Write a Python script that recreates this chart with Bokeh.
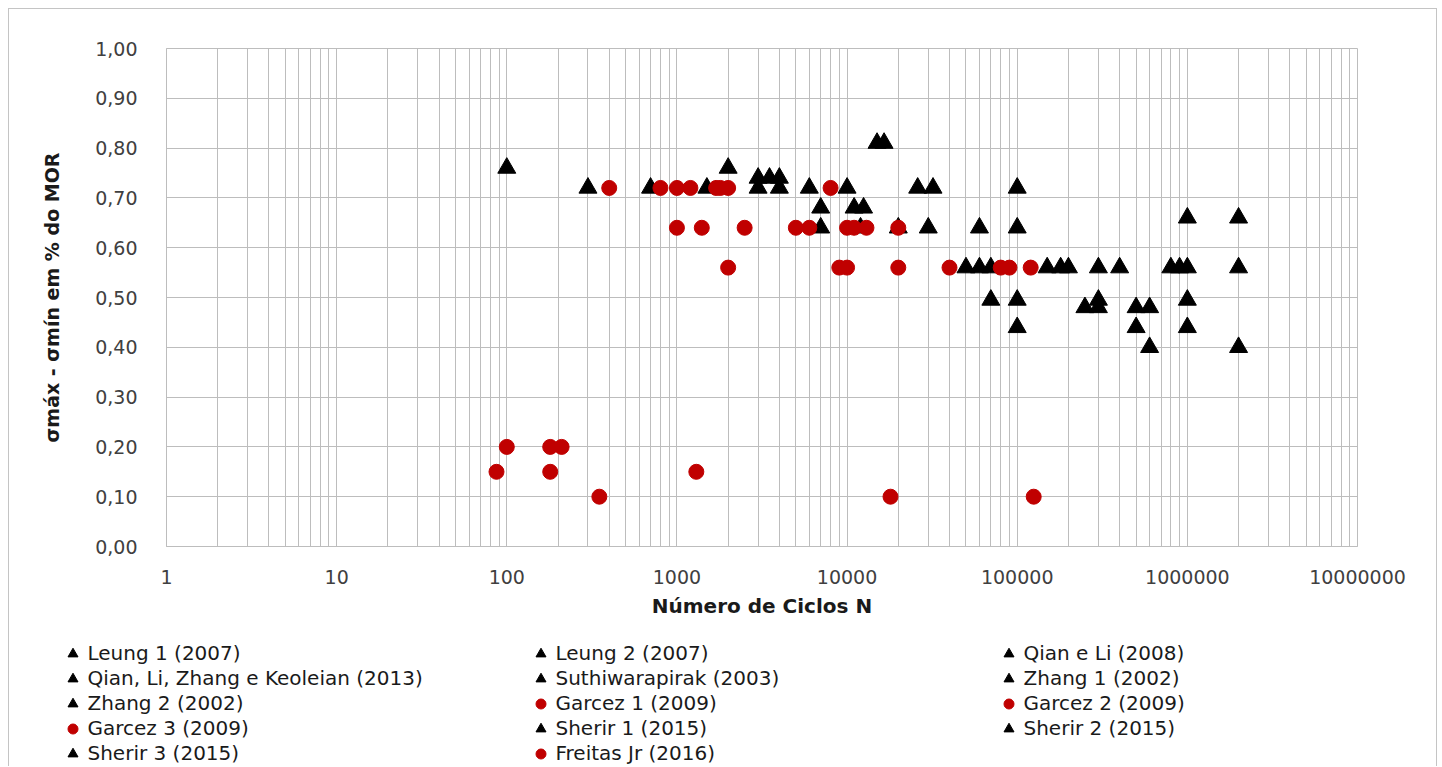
from bokeh.plotting import figure
from bokeh.layouts import column
from bokeh.models import (FixedTicker, CustomJSTickFormatter, Legend, LegendItem,
                          Range1d, ColumnDataSource)
from bokeh.embed import file_html
from bokeh.resources import INLINE

# ---------------- data ----------------
leung1_n = [100, 300, 700, 1500, 2000]
leung1_s = [0.76, 0.72, 0.72, 0.72, 0.76]

leung2_n = [3000, 3500, 4000, 3000, 4000]
leung2_s = [0.74, 0.74, 0.74, 0.72, 0.72]

qian_li_n = [6000, 10000, 7000, 11000, 12500, 7000, 12000]
qian_li_s = [0.72, 0.72, 0.68, 0.68, 0.68, 0.64, 0.64]

qlzk_n = [15000, 16500, 26000, 32000, 20000, 30000]
qlzk_s = [0.81, 0.81, 0.72, 0.72, 0.64, 0.64]

suthi_n = [100000, 60000, 100000]
suthi_s = [0.72, 0.64, 0.64]

zhang1_n = [50000, 60000, 70000, 150000, 180000, 200000]
zhang1_s = [0.56, 0.56, 0.56, 0.56, 0.56, 0.56]

zhang2_n = [300000, 400000, 800000, 900000, 1000000, 2000000]
zhang2_s = [0.56, 0.56, 0.56, 0.56, 0.56, 0.56]

garcez1_n = [400, 800, 1000, 1200, 1700, 1800, 2000, 8000]
garcez1_s = [0.72, 0.72, 0.72, 0.72, 0.72, 0.72, 0.72, 0.72]

garcez2_n = [1000, 1400, 2500, 5000, 6000, 10000, 11000, 13000, 20000]
garcez2_s = [0.64, 0.64, 0.64, 0.64, 0.64, 0.64, 0.64, 0.64, 0.64]

garcez3_n = [2000, 9000, 10000, 20000, 40000, 80000, 90000, 120000]
garcez3_s = [0.56, 0.56, 0.56, 0.56, 0.56, 0.56, 0.56, 0.56]

sherir1_n = [70000, 100000, 300000, 1000000, 1000000, 2000000]
sherir1_s = [0.495, 0.495, 0.495, 0.495, 0.66, 0.66]

sherir2_n = [250000, 300000, 500000, 600000]
sherir2_s = [0.48, 0.48, 0.48, 0.48]

sherir3_n = [100000, 500000, 1000000, 600000, 2000000]
sherir3_s = [0.44, 0.44, 0.44, 0.40, 0.40]

freitas_n = [100, 180, 210, 87, 180, 1300, 350, 18000, 125000]
freitas_s = [0.20, 0.20, 0.20, 0.15, 0.15, 0.15, 0.10, 0.10, 0.10]

series_names = ["Leung 1 (2007)", "Leung 2 (2007)", "Qian e Li (2008)",
                "Qian, Li, Zhang e Keoleian (2013)", "Suthiwarapirak (2003)",
                "Zhang 1 (2002)", "Zhang 2 (2002)", "Garcez 1 (2009)",
                "Garcez 2 (2009)", "Garcez 3 (2009)", "Sherir 1 (2015)",
                "Sherir 2 (2015)", "Sherir 3 (2015)", "Freitas Jr (2016)"]
series_n = [leung1_n, leung2_n, qian_li_n, qlzk_n, suthi_n, zhang1_n, zhang2_n,
            garcez1_n, garcez2_n, garcez3_n, sherir1_n, sherir2_n, sherir3_n,
            freitas_n]
series_s = [leung1_s, leung2_s, qian_li_s, qlzk_s, suthi_s, zhang1_s, zhang2_s,
            garcez1_s, garcez2_s, garcez3_s, sherir1_s, sherir2_s, sherir3_s,
            freitas_s]
series_kind = ["tri", "tri", "tri", "tri", "tri", "tri", "tri",
               "dot", "dot", "dot", "tri", "tri", "tri", "dot"]

x_ticks = [1, 10, 100, 1000, 10000, 100000, 1000000, 10000000]
y_ticks = [0.0, 0.1, 0.2, 0.3, 0.4, 0.5, 0.6, 0.7, 0.8, 0.9, 1.0]

GRID = "#bdbdbd"
RED = "#c00000"
W = 1427

# ---------------- main figure ----------------
p = figure(width=W, height=624, x_axis_type="log",
           x_range=Range1d(1, 1e7), y_range=Range1d(0, 1),
           output_backend="svg", toolbar_location=None,
           min_border_left=157, min_border_right=79,
           min_border_top=39, min_border_bottom=87)
p.outline_line_color = GRID
p.frame_align = False

minor = [k * d for d in x_ticks[:-1] for k in range(2, 10)]
p.xaxis.ticker = FixedTicker(ticks=x_ticks, minor_ticks=minor)
p.xaxis.formatter = CustomJSTickFormatter(code="return Math.round(tick).toString()")
p.yaxis.ticker = FixedTicker(ticks=y_ticks)
p.yaxis.formatter = CustomJSTickFormatter(code="return tick.toFixed(2).replace('.', ',')")

p.xgrid.grid_line_color = GRID
p.xgrid.minor_grid_line_color = GRID
p.ygrid.grid_line_color = GRID

for ax in (p.xaxis, p.yaxis):
    ax.axis_line_color = GRID
    ax.major_tick_line_color = None
    ax.minor_tick_line_color = None
    ax.major_label_text_font = "DejaVu Sans"
    ax.major_label_text_color = "#404040"
    ax.axis_label_text_font = "DejaVu Sans"
    ax.axis_label_text_font_style = "bold"
    ax.axis_label_text_color = "#1a1a1a"

p.xaxis.major_label_text_font_size = "19px"
p.yaxis.major_label_text_font_size = "19px"
p.xaxis.axis_label_text_font_size = "20px"
p.yaxis.axis_label_text_font_size = "19px"
p.yaxis.major_label_standoff = 23
p.xaxis.major_label_standoff = 17
p.xaxis.axis_label = "Número de Ciclos N"
p.yaxis.axis_label = "σmáx - σmín em % do MOR"
p.xaxis.axis_label_standoff = 7
p.yaxis.axis_label_standoff = 29

# triangles first, red circles drawn on top
for kind in ("tri", "dot"):
    for name, n, s, k in zip(series_names, series_n, series_s, series_kind):
        if k != kind:
            continue
        src = ColumnDataSource(dict(n=n, s=s))
        if k == "tri":
            p.scatter("n", "s", source=src, marker="triangle", size=18,
                      fill_color="black", line_color="black")
        else:
            p.scatter("n", "s", source=src, marker="circle", size=15,
                      fill_color=RED, line_color=RED)

# ---------------- legend strip ----------------
p2 = figure(width=W, height=133, x_range=Range1d(0, 1), y_range=Range1d(0, 1),
            output_backend="svg", toolbar_location=None, min_border=0,
            x_axis_location=None, y_axis_location=None)
p2.grid.visible = False
p2.outline_line_color = None
p2.frame_align = False

leg_items = {}
nan = float("nan")
for name, k in zip(series_names, series_kind):
    # placeholder renderer (no visible point) that only supplies the legend swatch
    holder = ColumnDataSource(dict(x=[nan], y=[nan]))
    if k == "tri":
        r = p2.scatter("x", "y", source=holder, marker="triangle", size=12,
                       fill_color="black", line_color="black")
    else:
        r = p2.scatter("x", "y", source=holder, marker="circle", size=12,
                       fill_color=RED, line_color=RED)
    leg_items[name] = LegendItem(label=name, renderers=[r])

cols = [series_names[0::3], series_names[1::3], series_names[2::3]]
col_x = [50.5, 518.5, 986.5]
ROW = 25
for names, x0 in zip(cols, col_x):
    n_rows = len(names)
    y0 = 0.5 + (5 - n_rows) * ROW
    lg = Legend(items=[leg_items[nm] for nm in names], location=(x0, y0),
                orientation="vertical", spacing=0, padding=0, margin=0,
                glyph_width=25, glyph_height=ROW, label_height=ROW,
                label_standoff=3,
                label_text_font="DejaVu Sans", label_text_font_size="20px",
                label_text_color="#1a1a1a",
                border_line_color=None, background_fill_alpha=0)
    p2.add_layout(lg)

layout = column(p, p2, styles={"margin-left": "8px", "margin-top": "8px",
                               "border-left": "1px solid #c4c4c4",
                               "border-top": "1px solid #c4c4c4",
                               "border-right": "1px solid #c4c4c4"})

open("out.html", "w").write(file_html(layout, INLINE))
